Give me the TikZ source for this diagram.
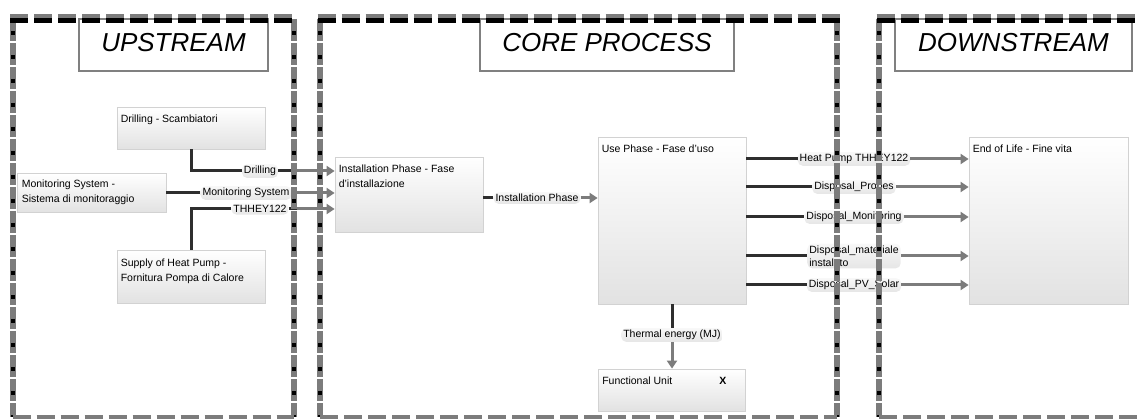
\documentclass[tikz,border=0pt]{standalone}
\usepackage{fontspec}
\setmainfont{Liberation Sans}
\usetikzlibrary{arrows.meta}
\definecolor{dk}{HTML}{2E2E2E}
\definecolor{gr}{HTML}{7C7C7C}
\definecolor{bd}{HTML}{808080}
\definecolor{boxbd}{HTML}{D2D2D2}
\definecolor{boxbot}{HTML}{E2E2E2}
\definecolor{pilltop}{HTML}{F8F8F8}
\definecolor{pillbot}{HTML}{E6E6E6}
\begin{document}
\begin{tikzpicture}[x=1pt,y=-1pt,
  procbox/.style={draw=boxbd, line width=0.8pt, top color=white, bottom color=boxbot, inner sep=0pt, rectangle},
  boxtext/.style={anchor=north west, inner sep=0pt, align=left, font=\fontsize{10.5}{15}\selectfont},
  lab/.style={rounded corners=5pt, top color=pilltop, bottom color=pillbot, inner xsep=2pt, inner ysep=2pt, font=\fontsize{10.5}{13}\selectfont, align=left},
  darkline/.style={draw=dk, line width=3pt},
  grayarrow/.style={draw=gr, line width=3pt, -{Triangle[length=8pt,width=10pt]}},
  titlebox/.style={draw=bd, line width=1.2pt, fill=white, inner sep=0pt, text depth=5pt, font=\fontsize{26}{30}\selectfont\itshape},
  edgegray/.style={draw=gr, line width=5pt, dash pattern=on 18pt off 6pt},
  edgeblack/.style={draw=black, line width=5pt, dash pattern=on 18pt off 6pt},
  sidegray/.style={draw=gr, line width=6pt, dash pattern=on 22pt off 2pt},
  sideblack/.style={draw=black, line width=4pt, dash pattern=on 4pt off 20pt, dash phase=-12pt},
  bottomgray/.style={draw=gr, line width=4pt, dash pattern=on 18pt off 6pt}
]
\useasboundingbox (0,0) rectangle (1137,419);

% titles
\node[titlebox, minimum width=189pt, minimum height=52pt] (tup) at (173.5,45) {UPSTREAM};
\node[titlebox, minimum width=254pt, minimum height=52pt] (tcore) at (607,45) {CORE PROCESS};
\node[titlebox, minimum width=237pt, minimum height=52pt] (tdown) at (1013.5,45) {DOWNSTREAM};

% process boxes
\node[procbox, minimum width=148pt, minimum height=42pt] (drill) at (191,128) {};
\node[procbox, minimum width=149pt, minimum height=39pt] (mon) at (91.5,193) {};
\node[procbox, minimum width=148pt, minimum height=53pt] (sup) at (191,276.5) {};
\node[procbox, minimum width=148pt, minimum height=75pt] (inst) at (409,194.5) {};
\node[procbox, minimum width=148pt, minimum height=167pt] (use) at (672,220.5) {};
\node[procbox, minimum width=147pt, minimum height=42pt] (fu) at (672,390) {};
\node[procbox, minimum width=159pt, minimum height=167pt] (eol) at (1048.5,220.5) {};

\node[boxtext] (tdrill) at ([shift={(4,8)}]drill.north west) {Drilling - Scambiatori};
\node[boxtext] (tmon) at ([shift={(5,7)}]mon.north west) {Monitoring System -\\Sistema di monitoraggio};
\node[boxtext] (tsup) at ([shift={(4,9)}]sup.north west) {Supply of Heat Pump -\\Fornitura Pompa di Calore};
\node[boxtext] (tinst) at ([shift={(4,8)}]inst.north west) {Installation Phase - Fase\\d'installazione};
\node[boxtext] (tuse) at ([shift={(4,8)}]use.north west) {Use Phase - Fase d'uso};
\node[boxtext] (tfu) at ([shift={(4,8)}]fu.north west) {Functional Unit};
\node[boxtext, font=\fontsize{10.5}{15}\selectfont\bfseries] (tfux) at ([shift={(121,8)}]fu.north west) {X};
\node[boxtext] (teol) at ([shift={(4,8)}]eol.north west) {End of Life - Fine vita};

% connector labels
\node[lab] (ldrill) at (260,171) {Drilling};
\node[lab] (lmon) at (246,193) {Monitoring System};
\node[lab] (lthh) at (260,209) {THHEY122};
\node[lab] (linst) at (537,198) {Installation Phase};
\node[lab] (lth) at (672,335) {Thermal energy (MJ)};
\node[lab] (l1) at (854,159) {Heat Pump THHEY122};
\node[lab] (l2) at (854,187) {Disposal\_Probes};
\node[lab] (l3) at (854,217) {Disposal\_Monitoring};
\node[lab] (l4) at (854,256) {Disposal\_materiale\\instalato};
\node[lab] (l5) at (854,285) {Disposal\_PV\_Solar};

\coordinate (s1) at (297,171);
\coordinate (s2) at (297,193);
\coordinate (s3) at (297,209);

% connectors upstream
\draw[darkline] (drill.south) |- (ldrill.west);
\draw[darkline] (ldrill.east) -- (s1);
\draw[grayarrow] (s1) -- (inst.west |- s1);
\draw[darkline] (mon.east |- lmon) -- (lmon.west);
\draw[darkline] (lmon.east) -- (s2);
\draw[grayarrow] (s2) -- (inst.west |- s2);
\draw[darkline] (sup.north) |- (lthh.west);
\draw[darkline] (lthh.east) -- (s3);
\draw[grayarrow] (s3) -- (inst.west |- s3);

% core
\draw[darkline] (inst.east |- linst) -- (linst.west);
\draw[grayarrow] (linst.east) -- (use.west |- linst);
\draw[darkline] (use.south) -- (lth.north);
\draw[grayarrow] (lth.south) -- (lth.south |- fu.north);

% downstream
\foreach \l in {l1,l2,l3,l4,l5}{
  \draw[darkline] (use.east |- \l) -- (\l.west);
  \draw[grayarrow] (\l.east) -- (eol.west |- \l);
}

% panel borders
\foreach \xa/\xb in {12.5/294, 320/837}{
  \draw[sidegray] (\xa,19) -- (\xa,417);
  \draw[sideblack] (\xa,19) -- (\xa,417);
  \draw[sidegray] (\xb,19) -- (\xb,417);
  \draw[sideblack] (\xb,19) -- (\xb,417);
  \draw[bottomgray] (\xa,417) -- (\xb,417);
  \draw[edgegray] (\xa-2.5,16.5) -- (\xb+2.5,16.5);
  \draw[edgeblack] (\xa-2.5,21) -- (\xb+2.5,21);
}
\draw[sidegray] (879,19) -- (879,417);
\draw[sideblack] (879,19) -- (879,417);
\draw[bottomgray] (879,417) -- (1137,417);
\draw[edgegray] (876.5,16.5) -- (1137,16.5);
\draw[edgeblack] (876.5,21) -- (1137,21);
\end{tikzpicture}
\end{document}
